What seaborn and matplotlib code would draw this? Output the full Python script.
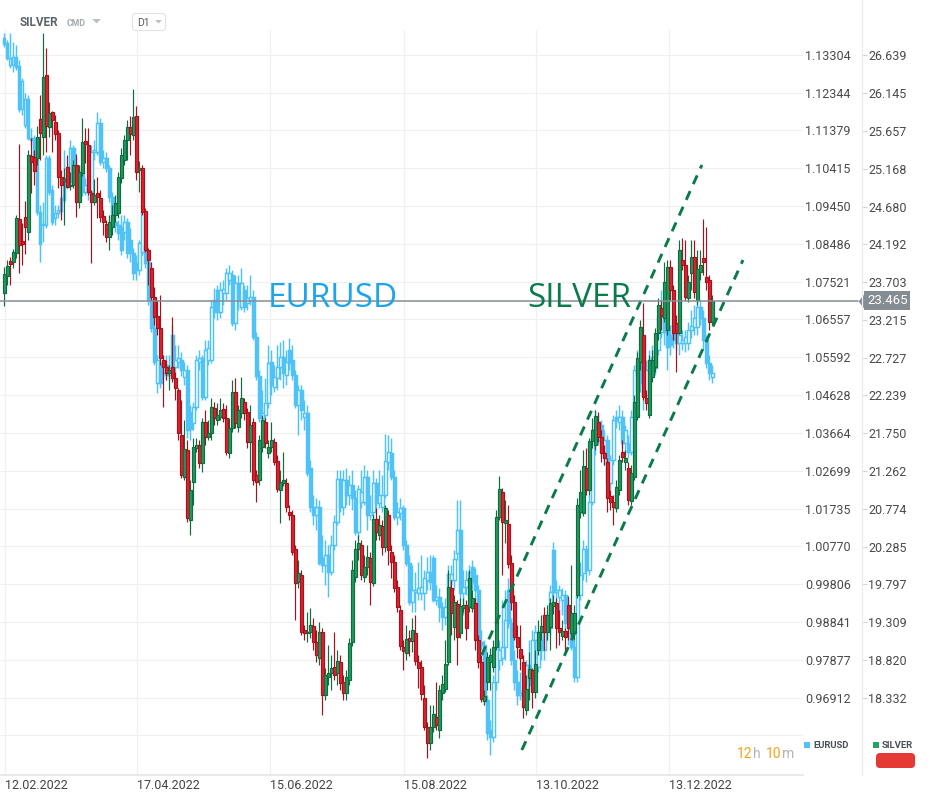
import matplotlib
matplotlib.use("Agg")
import matplotlib.pyplot as plt
import matplotlib.transforms as mtransforms
from matplotlib.lines import Line2D
from matplotlib.patches import FancyBboxPatch, Polygon, Rectangle
import numpy as np
import seaborn as sns

sns.set_theme(style="white")
plt.rcParams["font.family"] = ["Roboto", "DejaVu Sans"]

# ---- data: daily candles ----
silver_open = [
    23.56, 23.78, 23.98, 23.96, 24.08, 24.52, 24.24, 24.55, 24.35, 25.33,
    25.32, 25.31, 25.81, 25.58, 26.38, 25.71, 25.90, 25.77, 25.63, 25.06,
    25.01, 25.19, 24.95, 24.96, 25.22, 24.74, 25.11, 25.53, 25.48, 24.86,
    24.74, 24.86, 24.79, 24.56, 24.46, 24.29, 24.42, 24.57, 24.60, 25.05,
    25.28, 25.54, 25.71, 25.61, 25.85, 25.15, 25.18, 24.62, 24.12, 23.89,
    23.51, 23.27, 23.11, 22.70, 22.61, 22.53, 22.61, 22.47, 22.31, 21.73,
    21.19, 21.53, 20.63, 21.12, 21.56, 21.60, 21.37, 21.90, 21.70, 21.75,
    22.08, 21.92, 21.96, 22.06, 21.95, 21.50, 21.82, 22.28, 21.83, 22.01,
    22.15, 22.03, 21.64, 21.90, 21.21, 21.15, 21.57, 21.90, 21.50, 21.57,
    21.64, 21.39, 21.02, 21.11, 21.11, 20.73, 20.70, 20.26, 19.83, 19.92,
    19.21, 19.17, 19.18, 19.26, 19.05, 18.85, 19.18, 18.37, 18.60, 18.65,
    18.73, 18.65, 18.80, 18.54, 18.39, 18.56, 19.05, 19.89, 20.26, 20.31,
    19.89, 20.02, 20.14, 19.82, 20.64, 20.44, 20.55, 20.28, 20.70, 20.22,
    20.09, 19.76, 19.47, 18.99, 18.91, 19.11, 19.07, 19.17, 18.80, 18.73,
    18.33, 17.95, 17.75, 17.95, 18.08, 17.92, 18.39, 18.45, 18.80, 19.75,
    19.25, 19.54, 19.17, 19.49, 19.53, 19.51, 19.49, 19.56, 19.08, 18.80,
    18.29, 18.54, 18.80, 18.73, 18.99, 20.67, 20.99, 20.59, 20.58, 20.07,
    19.57, 19.12, 18.96, 18.80, 18.17, 18.59, 18.69, 18.41, 18.95, 19.18,
    19.40, 19.18, 19.25, 19.52, 19.56, 19.23, 19.13, 19.20, 19.53, 19.17,
    19.17, 19.66, 20.73, 20.72, 21.30, 21.02, 21.65, 21.60, 21.90, 21.70,
    21.50, 21.38, 20.94, 20.86, 20.79, 21.02, 21.51, 21.38, 21.30, 20.88,
    21.19, 21.96, 22.67, 23.02, 22.21, 21.99, 22.48, 22.61, 23.05, 23.37,
    23.24, 23.09, 23.90, 23.60, 23.18, 23.05, 23.99, 23.93, 23.50, 23.82,
    24.03, 23.47, 23.83, 24.02, 23.77, 23.73, 23.19,
]
silver_close = [
    23.81, 23.91, 23.94, 24.09, 24.53, 24.18, 24.20, 24.42, 25.35, 25.26,
    25.14, 25.58, 25.63, 26.35, 25.72, 25.89, 25.80, 25.62, 25.06, 24.96,
    25.04, 24.93, 24.96, 25.22, 24.74, 25.13, 25.51, 25.49, 24.87, 24.74,
    24.83, 24.80, 24.55, 24.48, 24.29, 24.48, 24.57, 24.73, 25.06, 25.35,
    25.54, 25.71, 25.62, 25.84, 25.13, 25.18, 24.61, 24.12, 23.99, 23.51,
    23.25, 23.11, 22.72, 22.61, 22.53, 22.57, 22.47, 22.34, 21.75, 21.21,
    21.55, 20.66, 21.02, 21.57, 21.60, 21.37, 21.90, 21.70, 21.75, 22.09,
    21.95, 21.99, 22.05, 21.95, 21.51, 21.82, 22.28, 21.88, 22.05, 22.21,
    22.01, 21.64, 21.86, 21.15, 21.12, 21.66, 21.92, 21.63, 21.57, 21.66,
    21.38, 21.03, 21.12, 21.15, 20.80, 20.70, 20.22, 19.82, 19.95, 19.18,
    19.17, 19.18, 19.27, 19.05, 18.89, 19.18, 18.37, 18.63, 18.65, 18.72,
    18.63, 18.81, 18.52, 18.39, 18.60, 19.04, 19.98, 20.26, 20.33, 19.92,
    20.02, 20.15, 19.83, 20.64, 20.48, 20.57, 20.28, 20.79, 20.24, 20.09,
    19.75, 19.51, 19.00, 18.94, 19.09, 19.07, 19.21, 18.81, 18.72, 18.38,
    17.95, 17.75, 17.95, 18.12, 17.98, 18.43, 18.51, 18.77, 19.76, 19.43,
    19.57, 19.12, 19.52, 19.53, 19.23, 19.88, 19.62, 19.08, 18.80, 18.32,
    18.36, 18.86, 18.89, 18.99, 20.67, 21.03, 20.60, 20.63, 20.06, 19.57,
    19.12, 18.99, 18.85, 18.21, 18.45, 18.70, 18.41, 18.77, 19.18, 19.26,
    19.18, 19.40, 19.56, 19.57, 19.23, 19.18, 19.20, 19.12, 19.23, 19.43,
    19.43, 20.82, 20.99, 21.33, 21.02, 21.65, 21.79, 21.97, 21.70, 21.50,
    21.43, 20.91, 20.86, 20.80, 21.06, 21.41, 21.44, 21.43, 20.89, 21.24,
    22.15, 22.72, 23.12, 22.22, 22.14, 22.70, 22.70, 23.05, 23.41, 23.27,
    23.71, 23.90, 23.60, 23.05, 23.05, 24.12, 23.93, 23.51, 23.71, 24.03,
    23.58, 23.87, 23.93, 23.96, 23.71, 23.19, 23.465,
]
silver_high = [
    23.90, 23.99, 24.03, 24.13, 24.57, 25.49, 24.47, 24.75, 25.41, 25.57,
    25.41, 25.72, 26.12, 26.92, 26.73, 26.03, 25.92, 25.86, 25.67, 25.15,
    25.18, 25.35, 25.13, 25.28, 25.36, 25.22, 25.83, 25.70, 25.70, 24.90,
    25.04, 25.06, 24.90, 24.64, 24.51, 24.57, 24.70, 24.83, 25.13, 25.44,
    25.61, 25.80, 25.85, 26.20, 25.98, 25.27, 25.22, 24.66, 24.15, 23.96,
    23.64, 23.47, 23.54, 22.76, 22.70, 22.63, 23.25, 22.54, 22.34, 22.18,
    21.92, 21.66, 21.15, 21.69, 21.69, 21.66, 21.95, 22.05, 21.92, 22.21,
    22.15, 22.14, 22.21, 22.14, 22.12, 21.95, 22.44, 22.47, 22.12, 22.48,
    22.21, 22.08, 22.12, 21.95, 21.28, 21.73, 21.99, 21.95, 21.66, 21.90,
    21.69, 21.47, 21.28, 21.51, 21.17, 20.82, 20.76, 20.31, 20.11, 19.98,
    19.27, 19.44, 19.49, 19.36, 19.21, 19.31, 19.23, 18.72, 19.02, 18.89,
    19.18, 18.95, 18.89, 18.63, 18.69, 19.11, 20.11, 20.37, 20.44, 20.37,
    20.18, 20.31, 20.22, 20.69, 20.79, 20.69, 20.63, 20.82, 20.76, 20.31,
    20.18, 19.85, 19.53, 19.08, 19.27, 19.21, 19.36, 19.40, 18.89, 18.82,
    18.50, 18.02, 18.24, 18.24, 18.54, 18.50, 18.63, 19.08, 19.98, 19.85,
    19.66, 19.60, 19.62, 19.62, 19.60, 19.98, 19.73, 19.62, 19.14, 18.89,
    18.43, 18.92, 18.98, 19.08, 20.76, 21.20, 21.04, 20.89, 20.82, 20.18,
    19.66, 19.27, 19.27, 18.89, 18.63, 18.92, 18.72, 18.95, 19.34, 19.40,
    19.51, 19.53, 19.62, 19.66, 19.62, 19.47, 19.34, 19.23, 19.65, 20.05,
    19.53, 20.91, 21.28, 21.54, 21.56, 21.69, 21.95, 22.05, 22.03, 21.79,
    21.60, 21.43, 21.02, 20.95, 21.15, 21.47, 21.66, 21.53, 21.38, 21.34,
    22.25, 22.80, 23.21, 23.43, 22.31, 22.76, 22.83, 23.11, 23.50, 23.47,
    23.96, 23.99, 23.99, 23.67, 23.28, 24.25, 24.27, 24.25, 23.80, 24.25,
    24.25, 24.12, 24.12, 24.52, 24.42, 23.80, 23.54,
]
silver_low = [
    23.40, 23.67, 23.67, 23.89, 24.02, 23.82, 23.93, 24.07, 24.25, 24.86,
    24.96, 25.22, 25.28, 25.35, 25.39, 25.58, 25.39, 25.54, 24.92, 24.51,
    24.44, 24.92, 24.90, 24.92, 24.55, 24.66, 25.08, 25.24, 24.83, 23.95,
    24.70, 24.53, 24.48, 24.31, 24.22, 24.12, 24.31, 24.48, 24.53, 24.99,
    25.22, 25.28, 25.35, 25.54, 25.02, 24.87, 24.57, 24.09, 23.67, 23.47,
    23.15, 23.02, 22.63, 22.09, 22.44, 22.31, 22.41, 22.18, 21.66, 21.17,
    21.15, 20.60, 20.44, 20.82, 21.51, 21.30, 21.25, 21.60, 21.66, 21.66,
    21.86, 21.86, 21.92, 21.90, 21.47, 21.43, 21.77, 21.82, 21.77, 21.95,
    21.92, 21.56, 21.25, 21.08, 20.86, 21.08, 21.51, 21.56, 21.43, 21.51,
    21.34, 20.99, 20.59, 21.07, 20.73, 20.63, 20.18, 19.34, 19.75, 19.14,
    19.08, 19.05, 19.11, 18.95, 18.79, 18.76, 18.11, 18.30, 18.50, 18.43,
    18.56, 18.50, 18.43, 18.30, 18.30, 18.50, 19.00, 19.83, 20.11, 19.85,
    19.83, 19.92, 19.53, 19.78, 20.37, 20.37, 20.18, 20.22, 20.05, 19.88,
    19.70, 19.44, 18.95, 18.69, 18.82, 18.87, 18.92, 18.76, 18.46, 18.30,
    17.92, 17.55, 17.66, 17.89, 17.92, 17.81, 18.30, 18.41, 18.76, 19.14,
    19.08, 18.76, 19.11, 19.44, 19.08, 19.44, 19.44, 18.95, 18.72, 18.28,
    18.24, 18.43, 18.43, 18.67, 18.95, 20.63, 19.92, 20.33, 20.01, 19.47,
    19.08, 18.85, 18.69, 18.07, 18.11, 18.30, 18.20, 18.33, 18.89, 19.08,
    18.95, 19.08, 18.95, 19.42, 18.98, 19.02, 19.08, 18.92, 19.08, 19.13,
    19.08, 19.62, 20.66, 20.68, 20.95, 20.95, 21.56, 21.53, 21.64, 21.38,
    21.34, 20.73, 20.76, 20.57, 20.73, 20.95, 21.38, 21.28, 20.82, 20.82,
    21.15, 21.92, 22.57, 22.18, 22.05, 21.95, 22.41, 22.54, 22.96, 23.09,
    23.19, 23.02, 23.47, 22.96, 22.54, 23.04, 23.86, 23.47, 23.45, 23.60,
    23.50, 23.41, 23.73, 23.80, 23.60, 23.09, 23.15,
]

eur_open = [
    1.1374, 1.1361, 1.1305, 1.1305, 1.1325, 1.1302, 1.1192, 1.1152, 1.1218, 1.1114,
    1.1119, 1.1068, 1.0930, 1.0897, 1.0897, 1.1068, 1.0986, 1.0915, 1.0927, 1.0932,
    1.0960, 1.1016, 1.1006, 1.1093, 1.1045, 1.1011, 1.1032, 1.0981, 1.0999, 1.0981,
    1.1083, 1.1083, 1.1157, 1.1057, 1.1068, 1.1042, 1.0968, 1.0904, 1.0897, 1.0891,
    1.0879, 1.0904, 1.0858, 1.0825, 1.0800, 1.0782, 1.0828, 1.0846, 1.0802, 1.0705,
    1.0634, 1.0494, 1.0544, 1.0519, 1.0539, 1.0514, 1.0616, 1.0534, 1.0547, 1.0552,
    1.0509, 1.0527, 1.0420, 1.0391, 1.0432, 1.0547, 1.0557, 1.0458, 1.0552, 1.0552,
    1.0705, 1.0731, 1.0675, 1.0723, 1.0723, 1.0756, 1.0769, 1.0647, 1.0749, 1.0687,
    1.0731, 1.0698, 1.0705, 1.0713, 1.0611, 1.0511, 1.0404, 1.0412, 1.0442, 1.0547,
    1.0483, 1.0506, 1.0534, 1.0560, 1.0514, 1.0578, 1.0552, 1.0514, 1.0437, 1.0476,
    1.0407, 1.0417, 1.0277, 1.0177, 1.0157, 1.0177, 1.0047, 1.0029, 1.0055, 1.0011,
    1.0080, 1.0139, 1.0248, 1.0177, 1.0246, 1.0208, 1.0233, 1.0200, 1.0113, 1.0190,
    1.0190, 1.0254, 1.0157, 1.0164, 1.0238, 1.0187, 1.0177, 1.0208, 1.0292, 1.0315,
    1.0254, 1.0152, 1.0162, 1.0175, 1.0080, 1.0034, 0.9934, 0.9960, 0.9957, 0.9957,
    0.9957, 0.9991, 1.0011, 1.0047, 0.9940, 0.9947, 0.9922, 0.9896, 0.9922, 0.9991,
    0.9991, 1.0060, 1.0118, 0.9957, 0.9973, 0.9991, 1.0024, 1.0004, 0.9965, 0.9833,
    0.9825, 0.9685, 0.9608, 0.9590, 0.9731, 0.9787, 0.9792, 0.9820, 0.9965, 0.9881,
    0.9787, 0.9731, 0.9697, 0.9697, 0.9697, 0.9774, 0.9723, 0.9838, 0.9769, 0.9838,
    0.9812, 0.9868, 0.9868, 1.0067, 0.9960, 0.9947, 0.9940, 0.9952, 0.9881, 0.9881,
    0.9820, 0.9744, 0.9952, 1.0009, 1.0070, 1.0016, 1.0190, 1.0356, 1.0348, 1.0386,
    1.0317, 1.0348, 1.0238, 1.0297, 1.0407, 1.0394, 1.0407, 1.0340, 1.0340, 1.0317,
    1.0407, 1.0514, 1.0544, 1.0494, 1.0463, 1.0527, 1.0547, 1.0532, 1.0578, 1.0624,
    1.0680, 1.0629, 1.0616, 1.0644, 1.0621, 1.0596, 1.0596, 1.0596, 1.0596, 1.0629,
    1.0636, 1.0636, 1.0687, 1.0659, 1.0603, 1.0544, 1.0509,
]
eur_close = [
    1.1358, 1.1323, 1.1323, 1.1325, 1.1300, 1.1192, 1.1264, 1.1218, 1.1119, 1.1119,
    1.1068, 1.0930, 1.0848, 1.0899, 1.1068, 1.0981, 1.0904, 1.0927, 1.0935, 1.0965,
    1.1016, 1.1006, 1.1093, 1.1045, 1.1011, 1.1032, 1.0981, 1.0999, 1.0981, 1.1083,
    1.1088, 1.1157, 1.1057, 1.1068, 1.1042, 1.0968, 1.0899, 1.0897, 1.0876, 1.0833,
    1.0904, 1.0825, 1.0825, 1.0774, 1.0782, 1.0851, 1.0930, 1.0800, 1.0705, 1.0634,
    1.0547, 1.0552, 1.0494, 1.0544, 1.0514, 1.0532, 1.0534, 1.0552, 1.0557, 1.0527,
    1.0527, 1.0374, 1.0376, 1.0432, 1.0552, 1.0557, 1.0458, 1.0578, 1.0583, 1.0687,
    1.0675, 1.0675, 1.0731, 1.0733, 1.0774, 1.0774, 1.0647, 1.0749, 1.0705, 1.0749,
    1.0687, 1.0710, 1.0713, 1.0611, 1.0511, 1.0404, 1.0417, 1.0442, 1.0544, 1.0488,
    1.0509, 1.0534, 1.0560, 1.0519, 1.0547, 1.0544, 1.0514, 1.0437, 1.0476, 1.0425,
    1.0417, 1.0264, 1.0177, 1.0157, 1.0177, 1.0034, 1.0029, 1.0055, 1.0011, 1.0080,
    1.0139, 1.0248, 1.0177, 1.0246, 1.0208, 1.0233, 1.0200, 1.0113, 1.0223, 1.0215,
    1.0254, 1.0157, 1.0164, 1.0238, 1.0187, 1.0208, 1.0208, 1.0294, 1.0317, 1.0254,
    1.0152, 1.0164, 1.0175, 1.0080, 1.0034, 0.9934, 0.9965, 0.9965, 0.9970, 0.9973,
    0.9996, 1.0011, 0.9986, 0.9940, 0.9947, 0.9922, 0.9896, 0.9922, 1.0006, 1.0006,
    1.0044, 1.0118, 0.9957, 0.9973, 0.9991, 1.0011, 0.9986, 0.9965, 0.9833, 0.9825,
    0.9685, 0.9600, 0.9590, 0.9731, 0.9820, 0.9812, 0.9820, 0.9889, 0.9881, 0.9787,
    0.9731, 0.9697, 0.9703, 0.9710, 0.9774, 0.9723, 0.9838, 0.9858, 0.9838, 0.9812,
    0.9868, 0.9881, 0.9960, 0.9960, 0.9965, 0.9965, 0.9952, 0.9881, 0.9902, 0.9820,
    0.9744, 0.9952, 1.0004, 1.0070, 1.0016, 1.0190, 1.0356, 1.0399, 1.0394, 1.0317,
    1.0348, 1.0238, 1.0297, 1.0399, 1.0399, 1.0407, 1.0340, 1.0374, 1.0317, 1.0407,
    1.0527, 1.0544, 1.0494, 1.0463, 1.0527, 1.0552, 1.0560, 1.0578, 1.0662, 1.0680,
    1.0624, 1.0585, 1.0590, 1.0603, 1.0596, 1.0616, 1.0603, 1.0611, 1.0629, 1.0639,
    1.0659, 1.0687, 1.0659, 1.0603, 1.0544, 1.0519, 1.0519,
]
eur_high = [
    1.1387, 1.1369, 1.1387, 1.1364, 1.1356, 1.1318, 1.1272, 1.1233, 1.1228, 1.1144,
    1.1126, 1.1075, 1.0948, 1.0955, 1.1075, 1.1075, 1.0999, 1.0948, 1.0948, 1.0973,
    1.1088, 1.1050, 1.1114, 1.1101, 1.1068, 1.1050, 1.1042, 1.1017, 1.1024, 1.1101,
    1.1114, 1.1185, 1.1170, 1.1088, 1.1083, 1.1050, 1.0981, 1.0922, 1.0909, 1.0922,
    1.0922, 1.0915, 1.0889, 1.0838, 1.0820, 1.0858, 1.0948, 1.0858, 1.0812, 1.0731,
    1.0667, 1.0565, 1.0557, 1.0565, 1.0565, 1.0565, 1.0642, 1.0590, 1.0590, 1.0573,
    1.0547, 1.0539, 1.0437, 1.0445, 1.0565, 1.0578, 1.0565, 1.0603, 1.0603, 1.0705,
    1.0736, 1.0743, 1.0751, 1.0756, 1.0787, 1.0795, 1.0782, 1.0769, 1.0769, 1.0787,
    1.0743, 1.0743, 1.0769, 1.0731, 1.0624, 1.0527, 1.0476, 1.0506, 1.0590, 1.0578,
    1.0539, 1.0590, 1.0598, 1.0603, 1.0578, 1.0608, 1.0590, 1.0527, 1.0488, 1.0488,
    1.0450, 1.0437, 1.0297, 1.0208, 1.0200, 1.0195, 1.0106, 1.0093, 1.0080, 1.0106,
    1.0157, 1.0271, 1.0271, 1.0271, 1.0277, 1.0259, 1.0271, 1.0220, 1.0233, 1.0271,
    1.0284, 1.0271, 1.0208, 1.0271, 1.0251, 1.0271, 1.0259, 1.0363, 1.0361, 1.0353,
    1.0271, 1.0190, 1.0200, 1.0182, 1.0093, 1.0055, 1.0029, 1.0011, 1.0037, 1.0055,
    1.0016, 1.0050, 1.0055, 1.0055, 0.9978, 0.9970, 0.9934, 0.9945, 1.0029, 1.0029,
    1.0067, 1.0195, 1.0195, 1.0016, 1.0016, 1.0029, 1.0042, 1.0021, 0.9978, 0.9863,
    0.9838, 0.9697, 0.9634, 0.9748, 0.9838, 0.9838, 0.9940, 0.9965, 0.9996, 0.9894,
    0.9812, 0.9761, 0.9756, 0.9799, 0.9787, 0.9838, 0.9863, 0.9876, 0.9863, 0.9858,
    0.9889, 0.9909, 0.9978, 1.0088, 0.9991, 0.9978, 0.9970, 0.9965, 0.9940, 0.9894,
    0.9838, 0.9965, 1.0037, 1.0093, 1.0080, 1.0208, 1.0379, 1.0425, 1.0412, 1.0399,
    1.0374, 1.0361, 1.0310, 1.0412, 1.0425, 1.0437, 1.0425, 1.0386, 1.0361, 1.0425,
    1.0539, 1.0578, 1.0565, 1.0514, 1.0552, 1.0578, 1.0590, 1.0603, 1.0693, 1.0731,
    1.0718, 1.0654, 1.0642, 1.0667, 1.0642, 1.0642, 1.0629, 1.0629, 1.0649, 1.0680,
    1.0693, 1.0705, 1.0705, 1.0680, 1.0616, 1.0565, 1.0539,
]
eur_low = [
    1.1351, 1.1318, 1.1297, 1.1287, 1.1292, 1.1185, 1.1177, 1.1144, 1.1114, 1.1101,
    1.1037, 1.0922, 1.0802, 1.0853, 1.0889, 1.0973, 1.0897, 1.0897, 1.0915, 1.0922,
    1.0953, 1.0991, 1.0999, 1.1024, 1.0999, 1.0986, 1.0971, 1.0973, 1.0960, 1.0973,
    1.1062, 1.1075, 1.1050, 1.1042, 1.1032, 1.0955, 1.0889, 1.0879, 1.0858, 1.0820,
    1.0858, 1.0812, 1.0802, 1.0756, 1.0756, 1.0769, 1.0820, 1.0787, 1.0692, 1.0624,
    1.0539, 1.0468, 1.0481, 1.0506, 1.0501, 1.0501, 1.0501, 1.0522, 1.0532, 1.0511,
    1.0488, 1.0353, 1.0348, 1.0374, 1.0425, 1.0527, 1.0450, 1.0450, 1.0539, 1.0544,
    1.0659, 1.0654, 1.0659, 1.0692, 1.0705, 1.0743, 1.0639, 1.0629, 1.0680, 1.0680,
    1.0675, 1.0680, 1.0692, 1.0603, 1.0501, 1.0394, 1.0386, 1.0399, 1.0430, 1.0463,
    1.0470, 1.0476, 1.0501, 1.0481, 1.0488, 1.0527, 1.0501, 1.0430, 1.0361, 1.0399,
    1.0374, 1.0256, 1.0164, 1.0131, 1.0118, 1.0029, 1.0011, 0.9978, 0.9947, 1.0004,
    1.0067, 1.0131, 1.0164, 1.0157, 1.0182, 1.0182, 1.0169, 1.0106, 1.0093, 1.0174,
    1.0182, 1.0118, 1.0144, 1.0149, 1.0169, 1.0174, 1.0164, 1.0200, 1.0271, 1.0246,
    1.0144, 1.0131, 1.0144, 1.0067, 1.0027, 0.9927, 0.9909, 0.9909, 0.9940, 0.9940,
    0.9914, 0.9965, 0.9965, 0.9934, 0.9927, 0.9884, 0.9863, 0.9876, 0.9914, 0.9978,
    0.9965, 1.0042, 0.9940, 0.9902, 0.9952, 0.9965, 0.9965, 0.9940, 0.9825, 0.9812,
    0.9672, 0.9583, 0.9544, 0.9577, 0.9710, 0.9761, 0.9774, 0.9787, 0.9868, 0.9774,
    0.9710, 0.9672, 0.9685, 0.9685, 0.9680, 0.9710, 0.9710, 0.9787, 0.9756, 0.9787,
    0.9787, 0.9838, 0.9850, 0.9945, 0.9914, 0.9902, 0.9902, 0.9863, 0.9825, 0.9812,
    0.9731, 0.9731, 0.9940, 0.9991, 0.9986, 1.0004, 1.0182, 1.0310, 1.0335, 1.0302,
    1.0284, 1.0220, 1.0220, 1.0284, 1.0379, 1.0374, 1.0328, 1.0310, 1.0302, 1.0310,
    1.0399, 1.0488, 1.0470, 1.0425, 1.0450, 1.0506, 1.0522, 1.0514, 1.0565, 1.0608,
    1.0590, 1.0527, 1.0565, 1.0583, 1.0578, 1.0565, 1.0578, 1.0573, 1.0578, 1.0608,
    1.0616, 1.0616, 1.0641, 1.0578, 1.0532, 1.0501, 1.0494,
]

# trend channel drawn on silver (candle index, price)
channel_upper_x = [159.1, 232.5]
channel_upper_y = [18.885, 25.218]
channel_lower_x = [172.5, 246.2]
channel_lower_y = [17.658, 23.990]
last_price = 23.465

date_pos = [0.23, 44.2, 88.6, 133.2, 177.2, 221.6]
date_labels = ["12.02.2022", "17.04.2022", "15.06.2022", "15.08.2022", "13.10.2022", "13.12.2022"]
silver_ticks = [26.639, 26.145, 25.657, 25.168, 24.680, 24.192, 23.703, 23.215, 22.727,
                22.239, 21.750, 21.262, 20.774, 20.285, 19.797, 19.309, 18.820, 18.332]
eur_ticks = [1.13304, 1.12344, 1.11379, 1.10415, 1.09450, 1.08486, 1.07521, 1.06557, 1.05592,
             1.04628, 1.03664, 1.02699, 1.01735, 1.00770, 0.99806, 0.98841, 0.97877, 0.96912, 0.95948]

BLUE = "#4fc3f7"
GREEN_F, GREEN_E = "#1f9c60", "#0e6c3e"
RED_F, RED_E = "#e4202d", "#a3131e"
TAG = "#858d94"
W, H = 930, 800

fig = plt.figure(figsize=(W / 100, H / 100), dpi=100)
fig.patch.set_facecolor("white")
# pixel transform, origin top-left
PX = mtransforms.Affine2D().scale(1, -1).translate(0, H).scale(1 / W, 1 / H) + fig.transFigure

ax = fig.add_axes([0, 1 - 775 / H, 803 / W, (775 - 30) / H])   # EURUSD (bottom layer)
ax2 = ax.twinx()                                                # SILVER (top layer)


def candles(a, o, h, l, c, up_face, up_edge, dn_face, dn_edge, width, lw):
    o, h, l, c = map(np.asarray, (o, h, l, c))
    x = np.arange(len(o))
    up = c >= o
    a.vlines(x, l, h, colors=np.where(up, up_edge, dn_edge), lw=lw, zorder=2)
    a.bar(x, np.abs(c - o), bottom=np.minimum(o, c), width=width,
          color=np.where(up, up_face, dn_face), edgecolor=np.where(up, up_edge, dn_edge),
          linewidth=lw, zorder=3)


candles(ax, eur_open, eur_high, eur_low, eur_close, "white", BLUE, BLUE, BLUE, 0.8, 1.05)
candles(ax2, silver_open, silver_high, silver_low, silver_close,
        GREEN_F, GREEN_E, RED_F, RED_E, 0.86, 0.85)

for cx, cy in [(channel_upper_x, channel_upper_y), (channel_lower_x, channel_lower_y)]:
    sns.lineplot(x=cx, y=cy, ax=ax2, color="#0b7a4a", lw=2.1,
                 linestyle=(0, (3.3, 2.6)), zorder=5)

xlim = (-1.43, 266.2)
ax.set_xlim(*xlim)
ax.set_ylim(0.9494, 1.1394)
ax2.set_ylim(17.335, 26.962)
ax2.set_xlim(*xlim)

# current price line + tag
blend = mtransforms.blended_transform_factory(ax2.transAxes, ax2.transData)
ax2.axhline(last_price, xmin=0, xmax=858 / 803, color=TAG, lw=1.1, clip_on=False, zorder=6)
ax2.plot([865 / 803], [last_price], transform=blend, marker=[(-0.8, 0), (0, 1), (0, -1)],
         ms=12.5, color=TAG, mec="none", clip_on=False, zorder=7)
ax2.text(867 / 803, last_price, "23.465", transform=blend, va="center", ha="left",
         color="white", fontsize=9.5, clip_on=False, zorder=8,
         bbox=dict(boxstyle="square,pad=0.2", fc=TAG, ec="none"))

# axes styling
ax.set_xticks(date_pos, date_labels)
for lab in ax.get_xticklabels():
    lab.set_horizontalalignment("left")
ax.tick_params(axis="x", length=0, pad=3, labelsize=9, labelcolor="#444444")
ax.yaxis.tick_right()
ax.set_yticks(eur_ticks, [f"{v:.5f}" for v in eur_ticks[:-1]] + [""])
ax.tick_params(axis="y", length=0, pad=1.5, labelsize=9, labelcolor="#4a4a4a")
ax.grid(True, color="#f0f0f0", lw=0.9)
ax.set_axisbelow(True)
for s in ["top", "left", "right"]:
    ax.spines[s].set_visible(False)
ax.spines["bottom"].set_color("#e6e6e6")

ax2.set_yticks(silver_ticks, [f"{v:.3f}" for v in silver_ticks])
ax2.spines["right"].set_position(("outward", 42.5))
ax2.tick_params(axis="y", length=3.3, width=0.8, color="#d4d4d4", pad=1.2,
                labelsize=9, labelcolor="#4a4a4a")
for s in ax2.spines.values():
    s.set_visible(False)
ax2.set_xlabel("")
ax2.set_ylabel("")
ax.set_ylabel("")
ax2.grid(False)

fig.add_artist(Line2D([862, 862], [0, 775], transform=PX, color="#ececec", lw=0.9))

# big series labels
fig.text(268, 307, "EURUSD", transform=PX, fontsize=24, family=["Open Sans", "DejaVu Sans"],
         color="#1ea5e9", va="baseline")
fig.text(527, 307, "SILVER", transform=PX, fontsize=24, family=["Open Sans", "DejaVu Sans"],
         color="#0a7b4b", va="baseline")

# header
fig.text(20, 22.5, "SILVER", transform=PX, fontsize=8.5, fontweight="bold", color="#5b6268", va="center")
fig.text(67, 23, "CMD", transform=PX, fontsize=6.3, fontweight="bold", color="#a3abb3", va="center")
fig.add_artist(Polygon([(92, 19), (101, 19), (96.5, 23.5)], closed=True, transform=PX,
                       fc="#b9c0c6", ec="none"))
fig.add_artist(FancyBboxPatch((132.5, 13.5), 33, 17, boxstyle="round,pad=0,rounding_size=3",
                              transform=PX, fc="white", ec="#dfe3e6", lw=0.8))
fig.text(137, 22.5, "D1", transform=PX, fontsize=7.5, color="#555b61", va="center")
fig.add_artist(Polygon([(155, 20), (162, 20), (158.5, 23.5)], closed=True, transform=PX,
                       fc="#b9c0c6", ec="none"))

# bottom-right widgets
fig.text(737, 754, "12", transform=PX, fontsize=10, color="#f7a21b", va="center")
fig.text(752.5, 754, "h", transform=PX, fontsize=10, color="#b5b5b5", va="center")
fig.text(766, 754, "10", transform=PX, fontsize=10, color="#f7a21b", va="center")
fig.text(781.5, 754, "m", transform=PX, fontsize=10, color="#b5b5b5", va="center")
fig.add_artist(Rectangle((804, 742), 6, 6, transform=PX, fc=BLUE, ec="none"))
fig.text(813, 745.5, "EURUSD", transform=PX, fontsize=6.8, fontweight="bold", color="#4a4f55", va="center")
fig.add_artist(Rectangle((873, 742), 6, 6, transform=PX, fc="#21a366", ec="none"))
fig.text(882, 745.5, "SILVER", transform=PX, fontsize=6.8, fontweight="bold", color="#4a4f55", va="center")
fig.add_artist(FancyBboxPatch((876, 753), 39, 15, boxstyle="round,pad=0,rounding_size=4",
                              transform=PX, fc="#e53935", ec="none"))

fig.savefig("out.png", dpi=100, facecolor="white")
